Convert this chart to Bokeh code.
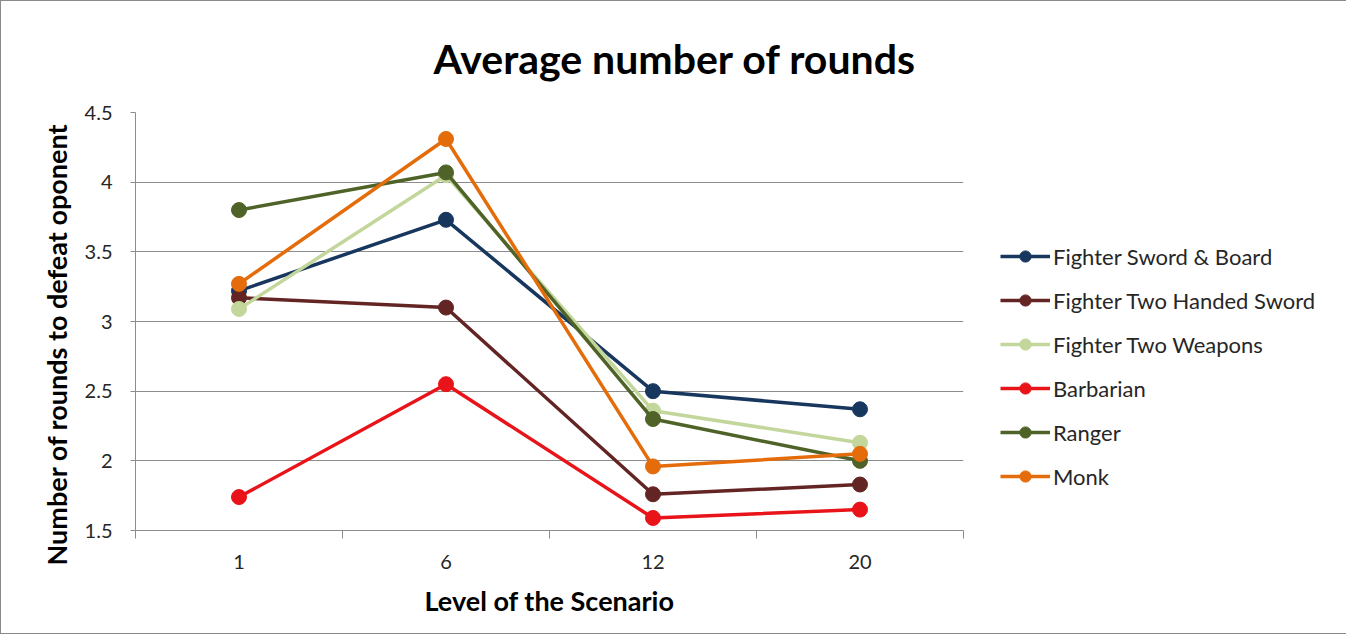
from bokeh.plotting import figure
from bokeh.models import Range1d, FixedTicker, Legend, LegendItem, Title
from bokeh.embed import file_html
from bokeh.resources import INLINE

levels = ["1", "6", "12", "20"]
series_names = ["Fighter Sword & Board", "Fighter Two Handed Sword", "Fighter Two Weapons",
                "Barbarian", "Ranger", "Monk"]
sword_board = [3.22, 3.73, 2.50, 2.37]
two_handed = [3.17, 3.10, 1.76, 1.83]
two_weapons = [3.09, 4.05, 2.36, 2.13]
barbarian = [1.74, 2.55, 1.59, 1.65]
ranger = [3.80, 4.07, 2.30, 2.00]
monk = [3.27, 4.31, 1.96, 2.05]
colors = ["#17375E", "#632523", "#C3D69B", "#E8141A", "#4F6228", "#E46C0A"]
y_ticks = [1.5, 2, 2.5, 3, 3.5, 4, 4.5]
y_labels = ["1.5", "2", "2.5", "3", "3.5", "4", "4.5"]

FONT = "Lato"

p = figure(frame_width=828, frame_height=418, output_backend="svg", toolbar_location=None,
           x_range=Range1d(0, len(levels)), y_range=Range1d(1.5, 4.5),
           min_border_left=134, min_border_right=0, min_border_top=111, min_border_bottom=103)
p.outline_line_color = None
p.background_fill_color = "white"
p.border_fill_color = "white"
p.styles = {"border": "1px solid #8a8a8a"}

xs = [i + 0.5 for i in range(len(levels))]

# axes
p.xaxis.ticker = FixedTicker(ticks=xs, minor_ticks=list(range(len(levels) + 1)))
p.xaxis.major_label_overrides = {x: l for x, l in zip(xs, levels)}
p.xaxis.major_tick_line_color = None
p.xaxis.major_tick_out = 0
p.xaxis.major_tick_in = 0
p.xaxis.minor_tick_out = 8
p.xaxis.minor_tick_in = 0
p.xaxis.minor_tick_line_color = "#8c8c8c"
p.xaxis.axis_line_color = "#8c8c8c"
p.xaxis.major_label_standoff = 16
p.xaxis.axis_label = "Level of the Scenario"
p.xaxis.axis_label_standoff = 12

p.yaxis.ticker = FixedTicker(ticks=y_ticks, minor_ticks=[])
p.yaxis.major_label_overrides = {t: l for t, l in zip(y_ticks, y_labels)}
p.yaxis.major_tick_out = 5
p.yaxis.major_tick_in = 0
p.yaxis.major_tick_line_color = "#8c8c8c"
p.yaxis.axis_line_color = "#8c8c8c"
p.yaxis.major_label_standoff = 18
p.yaxis.axis_label = "Number of rounds to defeat oponent" + "\u00a0" * 7
p.yaxis.axis_label_standoff = 9

for ax in (p.xaxis, p.yaxis):
    ax.major_label_text_font = FONT
    ax.major_label_text_font_size = "20px"
    ax.major_label_text_color = "#262626"
    ax.axis_label_text_font = FONT
    ax.axis_label_text_font_size = "27px"
    ax.axis_label_text_font_style = "bold"
    ax.axis_label_text_color = "#000000"
    ax.axis_line_width = 1

p.xgrid.grid_line_color = None
p.ygrid.grid_line_color = "#8c8c8c"
p.ygrid.grid_line_width = 1

title = Title(text="Average number of rounds", align="left", offset=298,
              text_font=FONT, text_font_size="41px", text_font_style="bold",
              text_color="#000000", standoff=59)
p.add_layout(title, "above")

data = [sword_board, two_handed, two_weapons, barbarian, ranger, monk]
items = []
for name, vals, c in zip(series_names, data, colors):
    r1 = p.line(xs, vals, line_color=c, line_width=3.5)
    r2 = p.scatter(xs, vals, size=15, fill_color=c, line_color=c)
    items.append(LegendItem(label=name, renderers=[r1, r2]))

legend = Legend(items=items, location=(37, 40), orientation="vertical")
legend.label_text_font = FONT
legend.label_text_font_size = "22px"
legend.label_text_color = "#262626"
legend.glyph_width = 50
legend.glyph_height = 28
legend.label_height = 28
legend.spacing = 16
legend.label_standoff = 3
legend.padding = 0
legend.margin = 0
legend.border_line_color = None
legend.background_fill_alpha = 0
p.add_layout(legend, "right")

open("out.html", "w").write(file_html(p, INLINE))
